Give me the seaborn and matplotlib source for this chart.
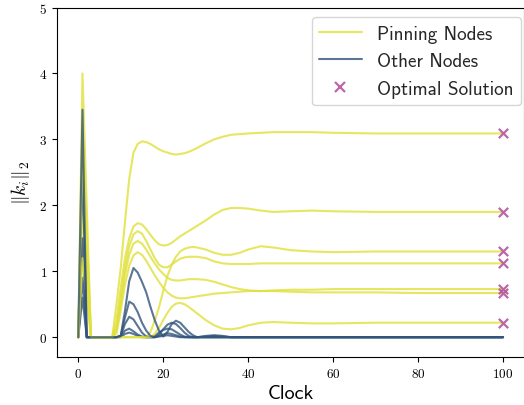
import numpy as np
import pandas as pd
import matplotlib
matplotlib.use("Agg")
import matplotlib.pyplot as plt
import seaborn as sns
from matplotlib.lines import Line2D
from matplotlib.ticker import FuncFormatter

# ---------------- data ----------------
clock = [0, 1, 2, 3, 5, 7,
         8, 9, 10, 11, 12, 13, 14, 15, 16, 17,
         18, 19, 20, 21, 22, 23, 24, 25, 26, 27,
         28, 30, 32, 34, 36, 38, 40, 43, 46, 50,
         55, 60, 70, 80, 90, 100]

pin_a = [0, 4.0, 2.0, 0, 0, 0,
         0, 0.5, 1.05, 1.75, 2.4, 2.8, 2.93, 2.97, 2.96, 2.93,
         2.89, 2.85, 2.82, 2.80, 2.78, 2.77, 2.78, 2.79, 2.81, 2.84,
         2.87, 2.94, 3.00, 3.04, 3.07, 3.08, 3.09, 3.10, 3.11, 3.11,
         3.11, 3.10, 3.09, 3.09, 3.09, 3.09]
pin_b = [0, 3.3, 1.65, 0, 0, 0,
         0, 0.25, 0.75, 1.2, 1.5, 1.68, 1.73, 1.71, 1.64, 1.55,
         1.47, 1.41, 1.39, 1.40, 1.43, 1.48, 1.53, 1.57, 1.61, 1.65,
         1.69, 1.77, 1.86, 1.93, 1.96, 1.96, 1.95, 1.92, 1.90, 1.91,
         1.92, 1.91, 1.90, 1.90, 1.90, 1.90]
pin_c = [0, 1.5, 0.75, 0, 0, 0,
         0, 0, 0, 0, 0, 0, 0, 0, 0, 0.08,
         0.25, 0.45, 0.7, 0.93, 1.1, 1.22, 1.30, 1.34, 1.36, 1.37,
         1.36, 1.33, 1.28, 1.25, 1.25, 1.28, 1.33, 1.38, 1.36, 1.32,
         1.30, 1.29, 1.30, 1.30, 1.30, 1.30]
pin_d = [0, 2.9, 1.45, 0, 0, 0,
         0, 0.15, 0.6, 1.05, 1.38, 1.56, 1.61, 1.57, 1.46, 1.33,
         1.2, 1.1, 1.06, 1.06, 1.1, 1.15, 1.19, 1.21, 1.22, 1.22,
         1.22, 1.20, 1.15, 1.12, 1.11, 1.11, 1.11, 1.12, 1.12, 1.12,
         1.12, 1.12, 1.12, 1.12, 1.12, 1.12]
pin_e = [0, 2.4, 1.2, 0, 0, 0,
         0, 0.1, 0.5, 0.95, 1.25, 1.42, 1.46, 1.42, 1.33, 1.22,
         1.12, 1.03, 0.96, 0.9, 0.87, 0.86, 0.86, 0.87, 0.88, 0.88,
         0.88, 0.87, 0.84, 0.80, 0.76, 0.73, 0.71, 0.70, 0.70, 0.69,
         0.68, 0.68, 0.68, 0.67, 0.67, 0.67]
pin_f = [0, 1.9, 0.95, 0, 0, 0,
         0, 0.05, 0.4, 0.8, 1.08, 1.24, 1.29, 1.25, 1.16, 1.05,
         0.94, 0.84, 0.75, 0.68, 0.63, 0.60, 0.59, 0.59, 0.60, 0.61,
         0.62, 0.64, 0.66, 0.67, 0.68, 0.69, 0.70, 0.70, 0.71, 0.72,
         0.72, 0.73, 0.73, 0.73, 0.73, 0.73]
pin_g = [0, 1.2, 0.6, 0, 0, 0,
         0, 0, 0, 0, 0, 0, 0, 0, 0, 0,
         0.05, 0.14, 0.26, 0.37, 0.46, 0.51, 0.52, 0.50, 0.46, 0.41,
         0.36, 0.26, 0.18, 0.13, 0.12, 0.14, 0.18, 0.22, 0.23, 0.22,
         0.21, 0.21, 0.22, 0.22, 0.22, 0.22]

oth_a = [0, 3.45, 0, 0, 0, 0,
         0, 0, 0.02, 0.4, 0.85, 1.05, 0.98, 0.84, 0.68, 0.46,
         0.26, 0.1, 0.01, 0.08, 0.2, 0.25, 0.22, 0.15, 0.08, 0.03,
         0, 0.02, 0.03, 0.02, 0, 0, 0, 0, 0, 0,
         0, 0, 0, 0, 0, 0]
oth_b = [0, 2.6, 0, 0, 0, 0,
         0, 0, 0.02, 0.3, 0.54, 0.5, 0.38, 0.22, 0.1, 0.02,
         0, 0.04, 0.12, 0.19, 0.22, 0.2, 0.14, 0.07, 0.02, 0,
         0, 0.01, 0.02, 0.01, 0, 0, 0, 0, 0, 0,
         0, 0, 0, 0, 0, 0]
oth_c = [0, 1.5, 0, 0, 0, 0,
         0, 0, 0.02, 0.2, 0.31, 0.27, 0.17, 0.07, 0.01, 0,
         0.02, 0.07, 0.11, 0.13, 0.12, 0.08, 0.04, 0.01, 0, 0,
         0, 0, 0, 0, 0, 0, 0, 0, 0, 0,
         0, 0, 0, 0, 0, 0]
oth_d = [0, 0.9, 0, 0, 0, 0,
         0, 0, 0.01, 0.1, 0.13, 0.09, 0.04, 0.01, 0, 0,
         0, 0.02, 0.04, 0.06, 0.05, 0.03, 0.01, 0, 0, 0,
         0, 0, 0, 0, 0, 0, 0, 0, 0, 0,
         0, 0, 0, 0, 0, 0]
oth_e = [0, 0.6, 0, 0, 0, 0,
         0, 0, 0, 0.05, 0.07, 0.05, 0.02, 0, 0, 0,
         0, 0.01, 0.02, 0.03, 0.02, 0.01, 0, 0, 0, 0,
         0, 0, 0, 0, 0, 0, 0, 0, 0, 0,
         0, 0, 0, 0, 0, 0]

optimal_clock = [100, 100, 100, 100, 100, 100, 100]
optimal_value = [3.09, 1.90, 1.30, 1.12, 0.73, 0.67, 0.22]

legend_labels = ["Pinning Nodes", "Other Nodes", "Optimal Solution"]
x_ticks = [0, 20, 40, 60, 80, 100]
y_ticks = [0, 1, 2, 3, 4, 5]

# ---------------- style ----------------
sns.set_style("ticks")
plt.rcParams["mathtext.fontset"] = "cm"
plt.rcParams["font.family"] = ["cmss10", "DejaVu Sans"]
plt.rcParams["axes.unicode_minus"] = False

PIN = "#e0e03a"
OTH = "#33557c"
OPT = "#b4589e"
ALPHA = 0.8
LW = 1.5

fig = plt.figure(figsize=(5.24, 4.06), dpi=100)
ax = fig.add_axes([57 / 524, 1 - 358 / 406, 467.3 / 524, 349.5 / 406])

order = [(pin_f, PIN), (oth_e, OTH), (pin_e, PIN), (oth_d, OTH),
         (pin_c, PIN), (oth_c, OTH), (pin_g, PIN), (oth_b, OTH),
         (pin_d, PIN), (pin_b, PIN), (pin_a, PIN), (oth_a, OTH)]
for vals, col in order:
    sns.lineplot(x=clock, y=vals, ax=ax, color=col, alpha=ALPHA,
                 linewidth=LW, estimator=None, sort=False)

sns.scatterplot(x=optimal_clock, y=optimal_value, ax=ax, marker="x",
                color=OPT, s=45, linewidth=1.6, alpha=0.9, zorder=5)

ax.set_xlim(-5, 105)
ax.set_ylim(-0.3, 5)
ax.set_xticks(x_ticks)
ax.set_yticks(y_ticks)
fmt = FuncFormatter(lambda v, p: f"${v:g}$")
ax.xaxis.set_major_formatter(fmt)
ax.yaxis.set_major_formatter(fmt)
ax.tick_params(labelsize=9.5, colors="black", direction="out", length=3.5, width=0.8)
for s in ax.spines.values():
    s.set_color("black")
    s.set_linewidth(0.8)

ax.set_xlabel("Clock", fontsize=14.5, color="black", labelpad=3)
ax.set_ylabel(r"$\|k_i\|_2$", fontsize=14, color="black", labelpad=5)

handles = [Line2D([], [], color=PIN, alpha=ALPHA, lw=LW),
           Line2D([], [], color=OTH, alpha=ALPHA, lw=LW),
           Line2D([], [], color=OPT, alpha=0.9, lw=0, marker="x",
                  markersize=6.5, markeredgewidth=1.6)]
ax.legend(handles, legend_labels, loc="upper right",
          bbox_to_anchor=(0.993, 0.973), borderaxespad=0,
          fontsize=13.8, handlelength=2.2, frameon=True)

fig.savefig("out.png", dpi=100)
